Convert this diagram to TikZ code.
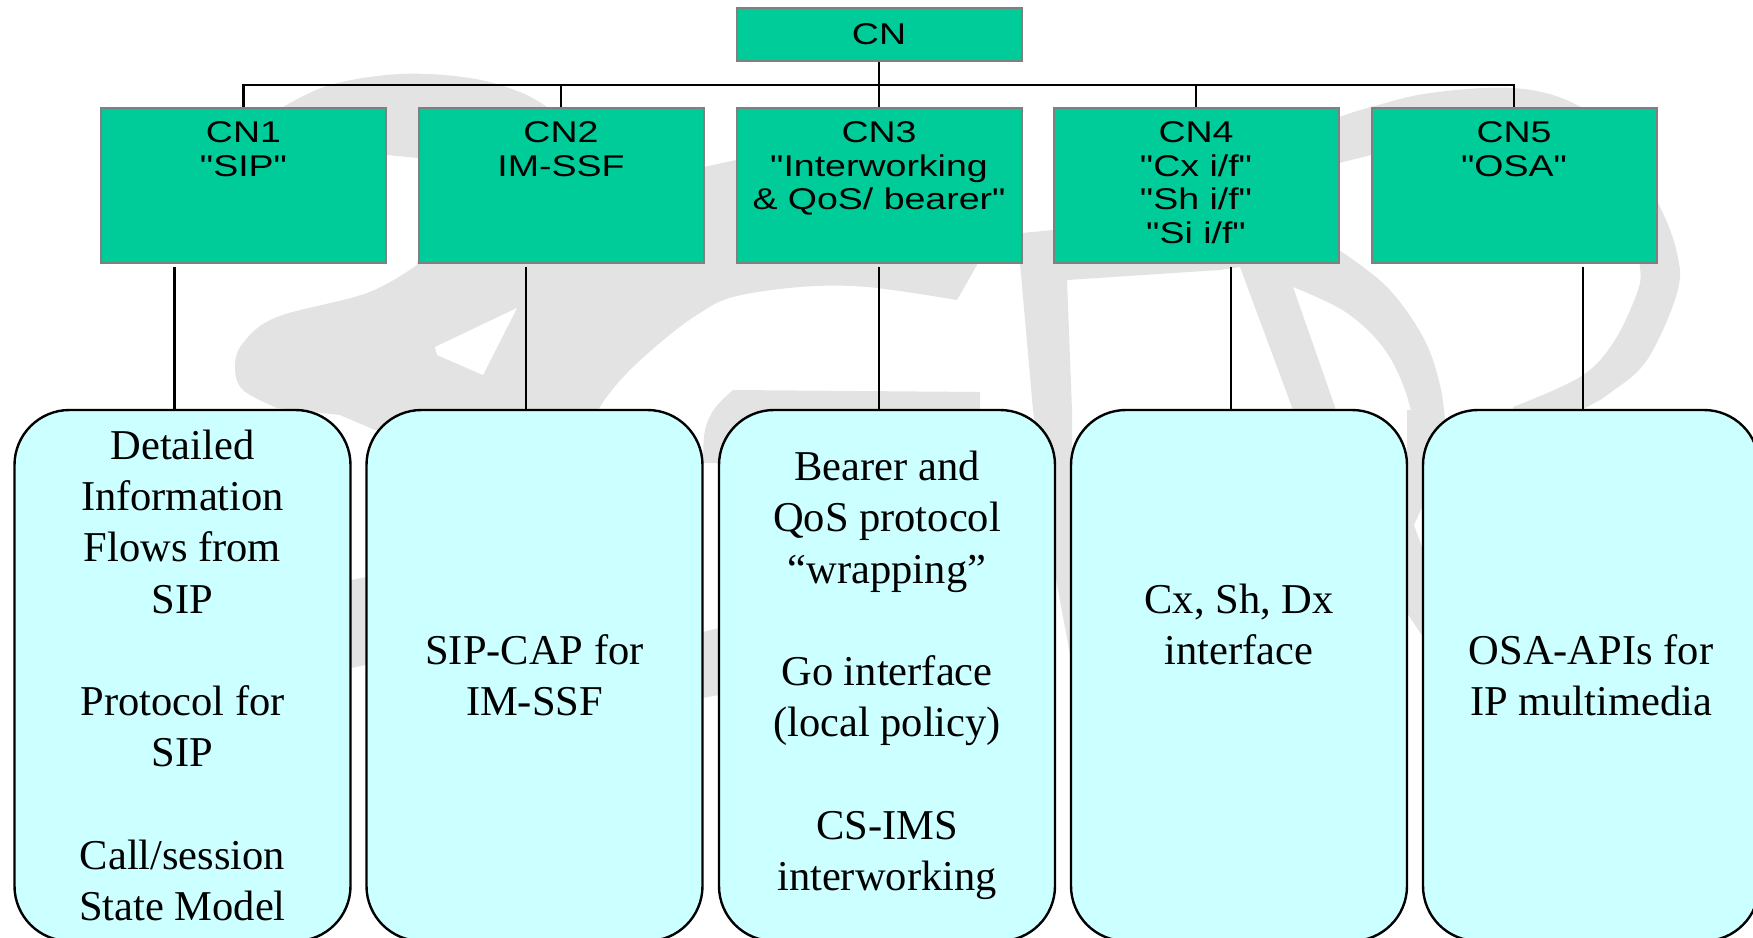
\documentclass[tikz,border=0pt]{standalone}
\usepackage{fontspec}
\setmainfont{Liberation Serif}
\newfontfamily\boxsans[FakeStretch=1.25]{Liberation Sans}
\definecolor{wmgrey}{HTML}{E3E3E3}
\definecolor{boxgreen}{HTML}{00CC99}
\definecolor{boxcyan}{HTML}{CCFFFF}
\definecolor{boxedge}{HTML}{808080}
\newcommand{\gtxt}[1]{\parbox[c][155pt][t]{280pt}{\centering\fontsize{30}{33.6}\selectfont\vspace*{14pt}#1\par}}
\tikzset{
  wm/.style={fill=wmgrey,draw=none},
  wmhole/.style={fill=white,draw=none},
  topbox/.style={draw=boxedge,line width=2pt,fill=boxgreen,inner sep=0pt,minimum width=285pt,minimum height=53pt,font=\boxsans\fontsize{30}{33.6}\selectfont},
  cnbox/.style={draw=boxedge,line width=2pt,fill=boxgreen,inner sep=0pt,minimum width=285pt,minimum height=155pt,font=\boxsans},
  infobox/.style={draw=black,line width=2.4pt,fill=boxcyan,rounded corners=55pt,inner sep=0pt,minimum width=336pt,minimum height=531pt,align=center,font=\fontsize{42.5}{51.3}\selectfont},
  conn/.style={draw=black,line width=2.2pt}
}
\begin{document}
\begin{tikzpicture}[x=1pt,y=-1pt]
\useasboundingbox (0,0) rectangle (1753,937);
\clip (0,0) rectangle (1753,937);
% watermark
\fill[wm] plot[smooth,tension=.6] coordinates {(283,107) (330,85) (400,74) (470,78) (520,92) (547,107)} -- (547,160) -- (418,158) -- (387,155) -- (283,150) -- cycle;
\fill[wm] (417,262) -- (500,200) -- (704,167) -- (736,160) -- (977,200) -- (977,265) -- (957,300)
  -- plot[smooth,tension=.6] coordinates {(957,300) (867,287) (800,287) (733,297) (700,313) (667,337) (627,373) (600,407) (580,450)}
  -- (375,430) -- (340,415)
  -- plot[smooth,tension=.6] coordinates {(277,408) (243,390) (235,367) (243,343) (277,317) (367,293) (417,265)} -- cycle;
\fill[wmhole] (517,308) -- (435,347) -- (437,355) -- (483,375) -- cycle;
\fill[wm] plot[smooth,tension=.6] coordinates {(703,463) (705,430) (715,408) (733,390)} -- (980,392) -- (980,440) -- (719,463) -- cycle;
\fill[wm] (351,580) -- (366,577) -- (366,665) -- (351,668) -- cycle;
\fill[wm] (703,632) -- (719,628) -- (719,695) -- (703,698) -- cycle;
\fill[wm] (1020,263) -- (1022,233) -- (1053,230) -- (1300,200) -- (1339,250)
  -- plot[smooth,tension=.6] coordinates {(1339,250) (1387,287) (1423,337) (1440,385) (1446,430)}
  -- plot[smooth,tension=.6] coordinates {(1410,450) (1410,407) (1387,353) (1347,313) (1293,287)}
  -- (1335,407) -- (1340,450) -- (1295,450) -- (1293,410) -- (1240,267) -- (1220,270) -- (1067,280)
  -- (1072,410) -- (1072,665) -- (1058,590) -- (1053,560) -- (1033,410) -- cycle;
\fill[wm] (1407,410) -- (1444,410) -- (1423,470) -- (1423,505) -- (1414,525) -- (1423,550) -- (1423,637) -- (1407,613) -- cycle;
\fill[wm] plot[smooth,tension=.6] coordinates {(1339,117) (1371,107) (1430,93) (1513,88) (1573,103) (1620,140) (1658,203) (1677,253) (1677,293) (1647,360) (1610,393) (1587,407) (1560,420)}
  -- (1513,420)
  -- plot[smooth,tension=.6] coordinates {(1513,407) (1580,377) (1613,343) (1637,293) (1640,267) (1632,230)}
  -- (1450,150) -- (1371,155) -- (1339,163) -- cycle;
% boxes
\node[topbox] (cn) at (879,34.5) {CN};
\node[cnbox] (cn1) at (243.5,185) {\gtxt{CN1\\"SIP"}};
\node[cnbox] (cn2) at (561,185) {\gtxt{CN2\\IM-SSF}};
\node[cnbox] (cn3) at (879,185) {\gtxt{CN3\\"Interworking\\\& QoS/ bearer"}};
\node[cnbox] (cn4) at (1196,185) {\gtxt{CN4\\"Cx i/f"\\"Sh i/f"\\"Si i/f"}};
\node[cnbox] (cn5) at (1514,185) {\gtxt{CN5\\"OSA"}};
\node[infobox] (r1) at (182.5,675.5) {Detailed\\Information\\Flows from\\SIP\\[51.3pt]Protocol for\\SIP\\[51.3pt]Call/session\\State Model};
\node[infobox] (r2) at (534.5,675.5) {SIP-CAP for\\IM-SSF};
\node[infobox] (r3) at (887,675.5) {Bearer and\\QoS protocol\\“wrapping”\\[51.3pt]Go interface\\(local policy)\\[51.3pt]CS-IMS\\interworking};
\node[infobox] (r4) at (1239,675.5) {Cx, Sh, Dx\\interface\\[51.3pt]\mbox{}};
\node[infobox] (r5) at (1591,675.5) {OSA-APIs for\\IP multimedia};
% connectors
\coordinate (busc) at (879,84.7);
\draw[conn] (cn.south) -- (cn3.north);
\draw[conn] (cn1.north) |- (busc) -| (cn5.north);
\draw[conn] (busc) -| (cn2.north);
\draw[conn] (busc) -| (cn4.north);
\coordinate (s1) at (174.5,266.7);
\coordinate (s2) at (526,266.7);
\coordinate (s3) at (879,266.7);
\coordinate (s4) at (1231,266.7);
\coordinate (s5) at (1583,266.7);
\draw[conn] (s1) -- (s1 |- r1.north);
\draw[conn] (s2) -- (s2 |- r2.north);
\draw[conn] (s3) -- (s3 |- r3.north);
\draw[conn] (s4) -- (s4 |- r4.north);
\draw[conn] (s5) -- (s5 |- r5.north);
\end{tikzpicture}
\end{document}
